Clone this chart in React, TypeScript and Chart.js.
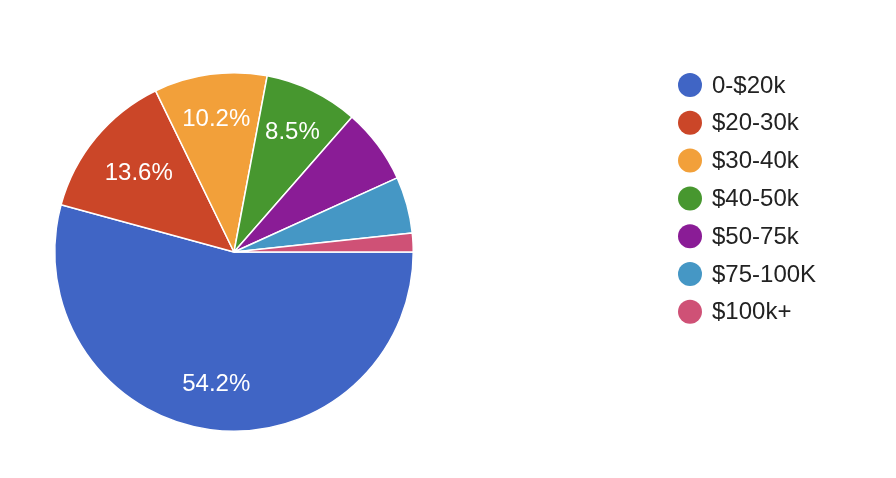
import React, { useEffect, useRef } from "react";
import { Chart, registerables } from "chart.js";

Chart.register(...registerables);

const categories = ["0-$20k", "$20-30k", "$30-40k", "$40-50k", "$50-75k", "$75-100K", "$100k+"];
const values = [32, 8, 6, 5, 4, 3, 1];
const colors = ["#4065c5", "#cb4628", "#f2a03a", "#47972f", "#8a1c96", "#4597c5", "#cf5176"];
const labelThreshold = 8; // percent; smaller slices have no label

const FONT = "Arial, 'Liberation Sans', sans-serif";

const sliceLabels = {
  id: "sliceLabels",
  afterDatasetsDraw(chart: any) {
    const meta = chart.getDatasetMeta(0);
    const data = chart.data.datasets[0].data as number[];
    const total = data.reduce((a, b) => a + b, 0);
    const ctx = chart.ctx;
    ctx.save();
    ctx.fillStyle = "#ffffff";
    ctx.font = `24px ${FONT}`;
    ctx.textAlign = "center";
    ctx.textBaseline = "middle";
    meta.data.forEach((arc: any, i: number) => {
      const pct = (data[i] / total) * 100;
      if (pct < labelThreshold) return;
      const { startAngle, endAngle, x, y, outerRadius } = arc.getProps(
        ["startAngle", "endAngle", "x", "y", "outerRadius"],
        true
      );
      const mid = (startAngle + endAngle) / 2;
      const r = outerRadius * (pct > 12 && pct < 20 ? 0.69 : 0.745);
      ctx.fillText(pct.toFixed(1) + "%", x + Math.cos(mid) * r, y + Math.sin(mid) * r);
    });
    ctx.restore();
  },
};

const sideLegend = {
  id: "sideLegend",
  afterDraw(chart: any) {
    const ctx = chart.ctx;
    const labels = chart.data.labels as string[];
    const bg = chart.data.datasets[0].backgroundColor as string[];
    ctx.save();
    ctx.font = `24px ${FONT}`;
    ctx.textAlign = "left";
    ctx.textBaseline = "middle";
    labels.forEach((lab, i) => {
      const cy = 85 + i * 37.8;
      ctx.fillStyle = bg[i];
      ctx.beginPath();
      ctx.arc(690, cy, 12, 0, Math.PI * 2);
      ctx.fill();
      ctx.fillStyle = "#222222";
      ctx.fillText(lab, 712, cy + 1);
    });
    ctx.restore();
  },
};

export default function App() {
  const ref = useRef<HTMLCanvasElement>(null);
  useEffect(() => {
    document.body.style.margin = "0";
    const chart = new Chart(ref.current!, {
      type: "pie",
      data: {
        labels: categories,
        datasets: [
          {
            data: values,
            backgroundColor: colors,
            borderColor: "#ffffff",
            borderWidth: 1.5,
          },
        ],
      },
      options: {
        responsive: false,
        animation: false,
        rotation: 90,
        layout: { padding: { left: 54, top: 72, right: 482, bottom: 46 } },
        plugins: {
          legend: { display: false },
          tooltip: { enabled: false },
        },
      },
      plugins: [sliceLabels, sideLegend],
    });
    return () => chart.destroy();
  }, []);
  return (
    <div style={{ width: 896, height: 478, background: "#fff" }}>
      <canvas ref={ref} width={896} height={478} style={{ display: "block" }} />
    </div>
  );
}
